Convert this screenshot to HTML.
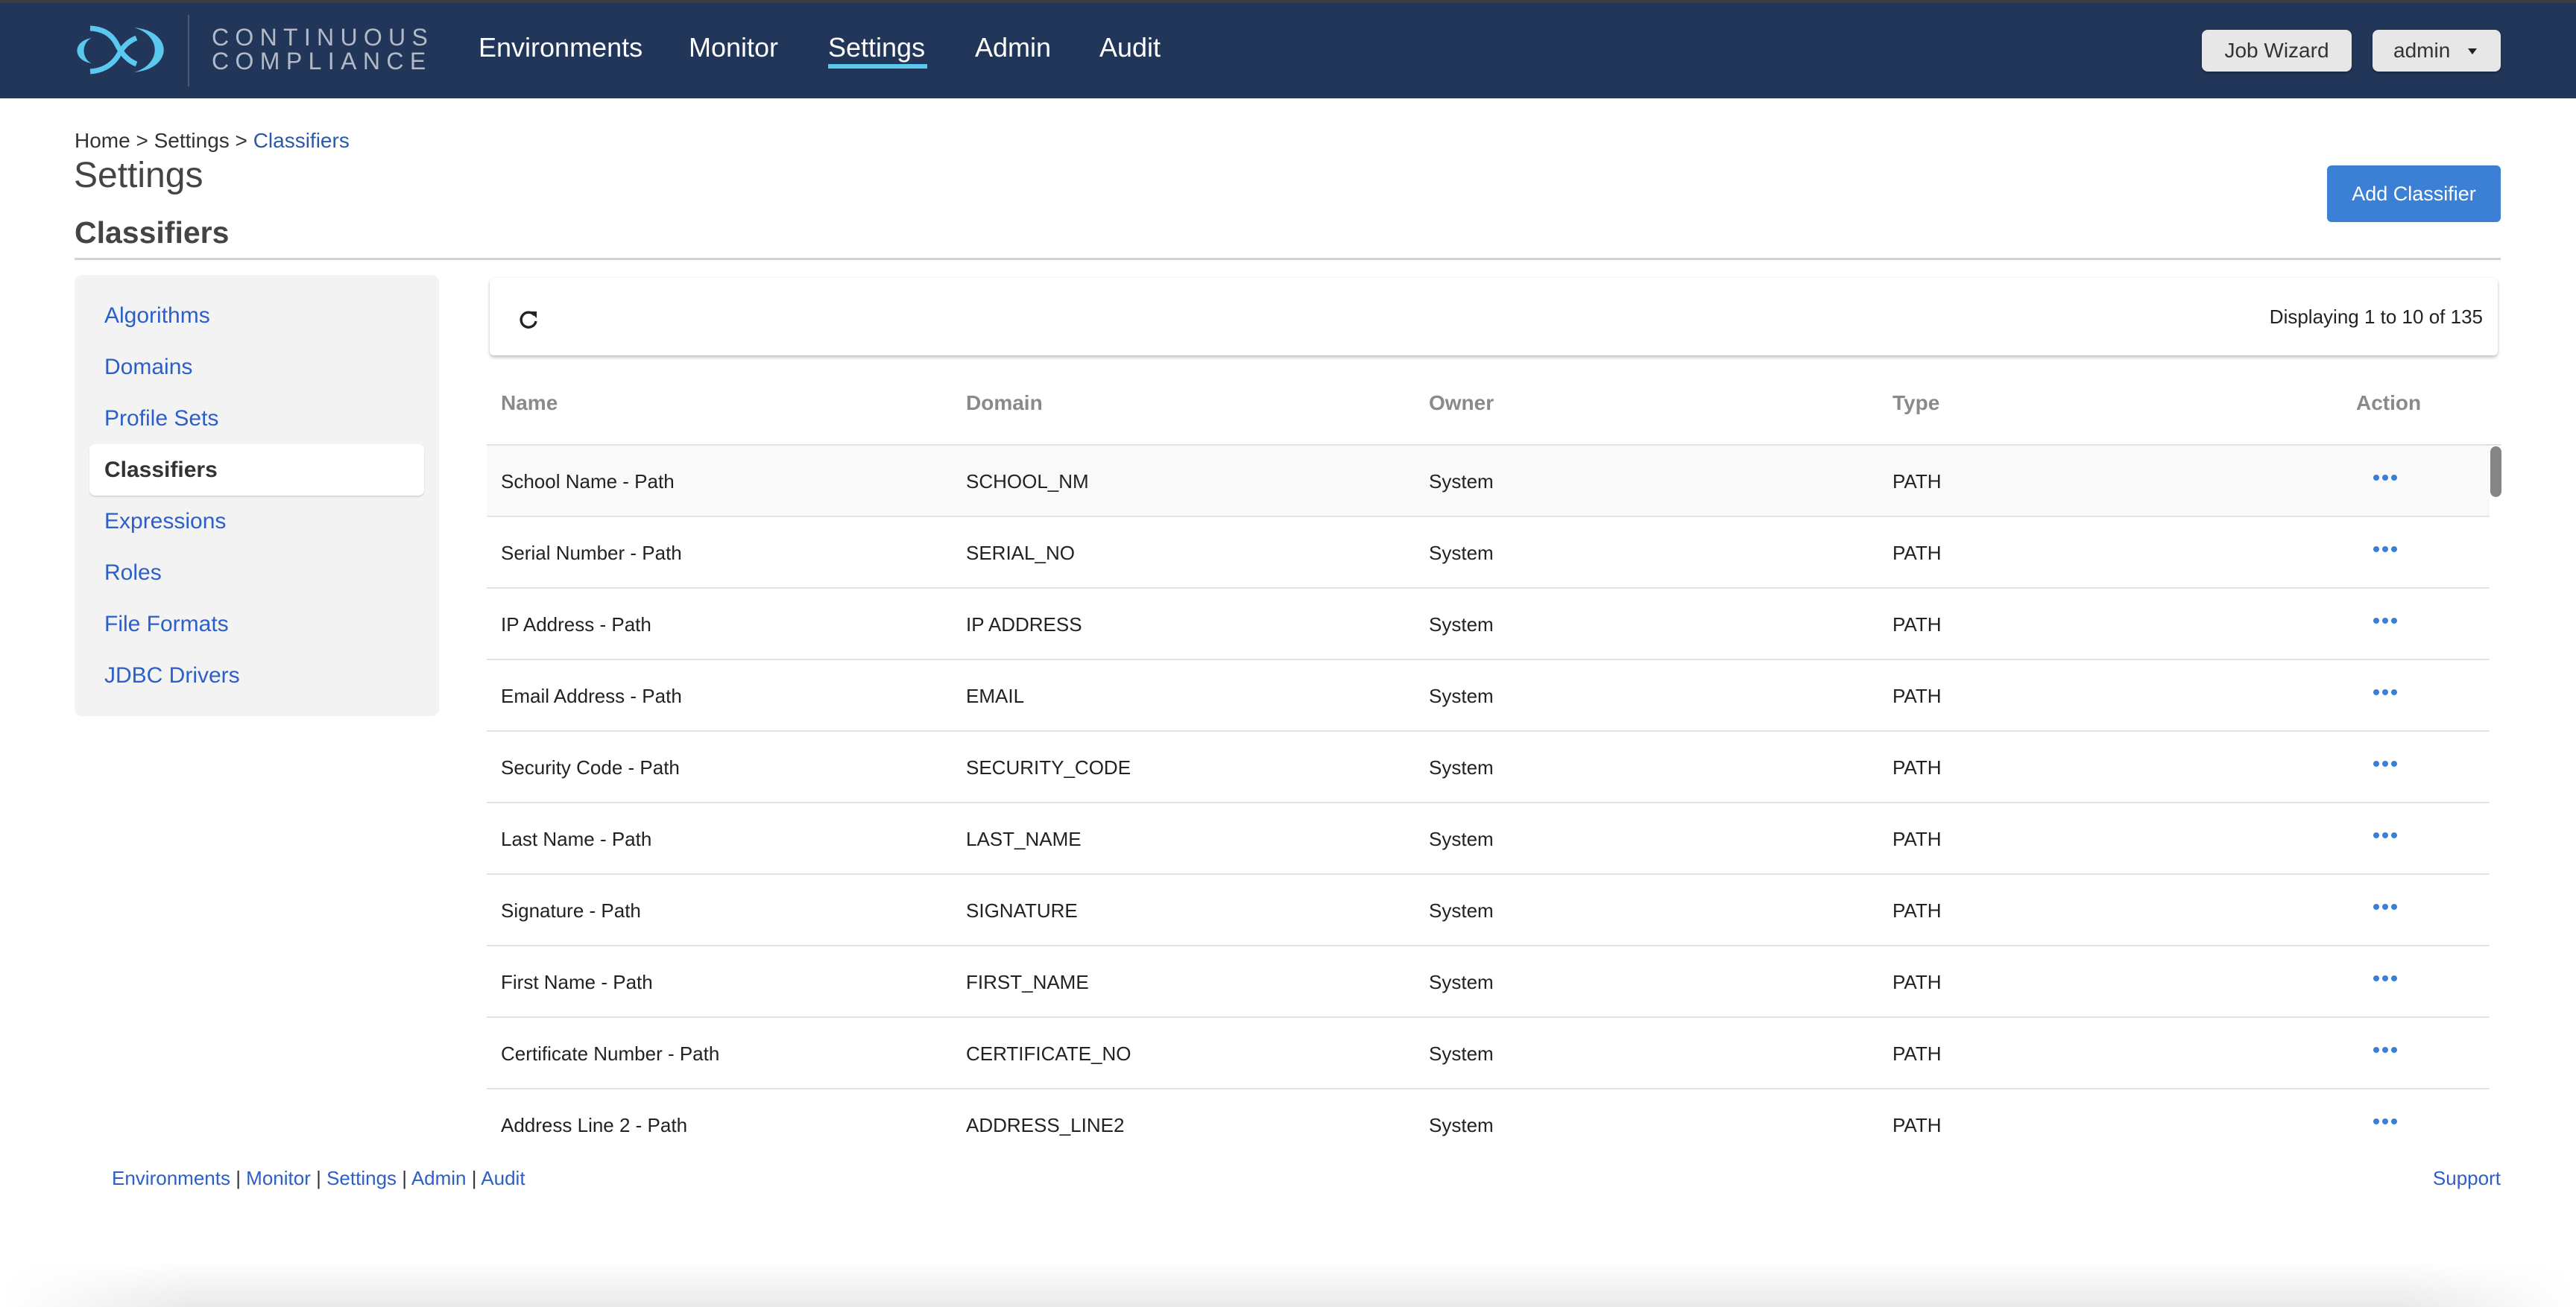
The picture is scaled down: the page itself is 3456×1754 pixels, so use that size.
<!DOCTYPE html>
<html><head><meta charset="utf-8">
<style>
*{margin:0;padding:0;box-sizing:border-box}
html,body{width:3456px;height:1754px;overflow:hidden;background:#fff;font-family:"Liberation Sans",Arial,Helvetica,sans-serif;position:relative}
.a{position:absolute;white-space:nowrap}
.nav{position:absolute;top:39px;line-height:50px;font-size:36px;color:#fff;white-space:nowrap}
.side{position:absolute;left:120px;width:449px;height:69px;line-height:69px;padding-left:20px;font-size:30px;color:#2c5fc7;white-space:nowrap}
.th{position:absolute;top:521px;line-height:40px;font-size:28px;font-weight:bold;color:#8a8a8a;white-space:nowrap}
.row{position:absolute;left:0;width:2687px;height:96px;border-bottom:2px solid #e4e4e4}
.row span{position:absolute;top:28px;line-height:40px;font-size:26px;color:#222;white-space:nowrap}
.dot{position:absolute;top:39px;width:8px;height:8px;border-radius:50%;background:#3a7fd5}
.ft{font-size:26px;color:#2c5fc7}
</style></head><body>

<!-- top stripe + header -->
<div class="a" style="left:0;top:0;width:3456px;height:4px;background:#3d3d3d"></div>
<div class="a" style="left:0;top:4px;width:3456px;height:128px;background:#22365a"></div>

<svg class="a" style="left:0;top:0" width="260" height="132" viewBox="0 0 260 132">
  <path d="M123,51 C97,55 97,81 123,85 C109,79 109,57 123,51 Z" fill="#5bc9ef"/>
  <path d="M180,37 C233,42 233,92 180,97 C217,86 217,48 180,37 Z" fill="#5bc9ef"/>
  <path d="M121,38 Q148,39 158,62 Q168,80 183,86" stroke="#5bc9ef" stroke-width="7" fill="none"/>
  <path d="M183,51 Q168,57 160,72 Q148,94 121,96" stroke="#5bc9ef" stroke-width="7" fill="none"/>
  <rect x="252" y="20" width="2" height="96" fill="#4a5b76"/>
</svg>
<div class="a" style="left:284px;top:30px;line-height:40px;font-size:32px;letter-spacing:8.3px;color:#b3bac6">CONTINUOUS</div>
<div class="a" style="left:284px;top:62px;line-height:40px;font-size:32px;letter-spacing:8.4px;color:#b3bac6">COMPLIANCE</div>

<div class="nav" style="left:642px">Environments</div>
<div class="nav" style="left:924px">Monitor</div>
<div class="nav" style="left:1111px">Settings</div>
<div class="nav" style="left:1308px">Admin</div>
<div class="nav" style="left:1475px">Audit</div>
<div class="a" style="left:1111px;top:86px;width:133px;height:6px;background:#5bc8ec"></div>

<div class="a" style="left:2954px;top:40px;width:201px;height:56px;background:#e7e7e7;border-radius:8px;box-shadow:0 2px 3px rgba(0,0,0,.3);text-align:center;line-height:56px;font-size:28px;color:#333">Job Wizard</div>
<div class="a" style="left:3183px;top:40px;width:172px;height:56px;background:#e7e7e7;border-radius:8px;box-shadow:0 2px 3px rgba(0,0,0,.3);line-height:56px;font-size:28px;color:#333;padding-left:28px">admin</div>
<svg class="a" style="left:3310px;top:64px" width="14" height="10" viewBox="0 0 14 10"><path d="M1,1 L13,1 L7,9 Z" fill="#222"/></svg>

<!-- breadcrumb + titles -->
<div class="a" style="left:100px;top:169px;line-height:40px;font-size:28px;color:#333">Home &gt; Settings &gt; <span style="color:#2b5aa8">Classifiers</span></div>
<div class="a" style="left:99px;top:206px;line-height:60px;font-size:48px;color:#444">Settings</div>
<div class="a" style="left:100px;top:287px;line-height:50px;font-size:41px;font-weight:bold;color:#444">Classifiers</div>
<div class="a" style="left:3122px;top:222px;width:233px;height:76px;background:#3b80d4;border-radius:6px;color:#fff;font-size:27px;line-height:76px;text-align:center">Add Classifier</div>
<div class="a" style="left:100px;top:346px;width:3255px;height:3px;background:#d2d2d2"></div>

<!-- sidebar -->
<div class="a" style="left:100px;top:369px;width:489px;height:592px;background:#f3f3f3;border-radius:10px"></div>
<div class="side" style="top:389px">Algorithms</div>
<div class="side" style="top:458px">Domains</div>
<div class="side" style="top:527px">Profile Sets</div>
<div class="side" style="top:596px;background:#fff;border-radius:8px;box-shadow:0 2px 2px rgba(0,0,0,.12);font-weight:bold;color:#333">Classifiers</div>
<div class="side" style="top:665px">Expressions</div>
<div class="side" style="top:734px">Roles</div>
<div class="side" style="top:803px">File Formats</div>
<div class="side" style="top:872px">JDBC Drivers</div>

<!-- toolbar card -->
<div class="a" style="left:657px;top:373px;width:2694px;height:104px;background:#fff;border-radius:6px;box-shadow:0 3px 4px rgba(0,0,0,.22),0 0 2px rgba(0,0,0,.08)"></div>
<svg class="a" style="left:694px;top:414px" width="30" height="30" viewBox="0 0 30 30">
  <path d="M23,9 A10,10 0 1 0 25,17" stroke="#222" stroke-width="3.4" fill="none"/>
  <path d="M17,4 L26,4 L26,13 Z" fill="#222"/>
</svg>
<div class="a" style="right:125px;top:405px;line-height:40px;font-size:26px;color:#222">Displaying 1 to 10 of 135</div>

<!-- table header -->
<div class="th" style="left:672px">Name</div>
<div class="th" style="left:1296px">Domain</div>
<div class="th" style="left:1917px">Owner</div>
<div class="th" style="left:2539px">Type</div>
<div class="th" style="left:3161px">Action</div>
<div class="a" style="left:653px;top:596px;width:2703px;height:2px;background:#e2e2e2"></div>

<!-- rows -->
<div class="a" style="left:653px;top:598px;width:2687px;height:947px;overflow:hidden">
  <div class="row" style="top:0;background:#f9f9f9"><span style="left:19px">School Name - Path</span><span style="left:643px">SCHOOL_NM</span><span style="left:1264px">System</span><span style="left:1886px">PATH</span><i class="dot" style="left:2531px"></i><i class="dot" style="left:2543px"></i><i class="dot" style="left:2555px"></i></div>
  <div class="row" style="top:96px"><span style="left:19px">Serial Number - Path</span><span style="left:643px">SERIAL_NO</span><span style="left:1264px">System</span><span style="left:1886px">PATH</span><i class="dot" style="left:2531px"></i><i class="dot" style="left:2543px"></i><i class="dot" style="left:2555px"></i></div>
  <div class="row" style="top:192px"><span style="left:19px">IP Address - Path</span><span style="left:643px">IP ADDRESS</span><span style="left:1264px">System</span><span style="left:1886px">PATH</span><i class="dot" style="left:2531px"></i><i class="dot" style="left:2543px"></i><i class="dot" style="left:2555px"></i></div>
  <div class="row" style="top:288px"><span style="left:19px">Email Address - Path</span><span style="left:643px">EMAIL</span><span style="left:1264px">System</span><span style="left:1886px">PATH</span><i class="dot" style="left:2531px"></i><i class="dot" style="left:2543px"></i><i class="dot" style="left:2555px"></i></div>
  <div class="row" style="top:384px"><span style="left:19px">Security Code - Path</span><span style="left:643px">SECURITY_CODE</span><span style="left:1264px">System</span><span style="left:1886px">PATH</span><i class="dot" style="left:2531px"></i><i class="dot" style="left:2543px"></i><i class="dot" style="left:2555px"></i></div>
  <div class="row" style="top:480px"><span style="left:19px">Last Name - Path</span><span style="left:643px">LAST_NAME</span><span style="left:1264px">System</span><span style="left:1886px">PATH</span><i class="dot" style="left:2531px"></i><i class="dot" style="left:2543px"></i><i class="dot" style="left:2555px"></i></div>
  <div class="row" style="top:576px"><span style="left:19px">Signature - Path</span><span style="left:643px">SIGNATURE</span><span style="left:1264px">System</span><span style="left:1886px">PATH</span><i class="dot" style="left:2531px"></i><i class="dot" style="left:2543px"></i><i class="dot" style="left:2555px"></i></div>
  <div class="row" style="top:672px"><span style="left:19px">First Name - Path</span><span style="left:643px">FIRST_NAME</span><span style="left:1264px">System</span><span style="left:1886px">PATH</span><i class="dot" style="left:2531px"></i><i class="dot" style="left:2543px"></i><i class="dot" style="left:2555px"></i></div>
  <div class="row" style="top:768px"><span style="left:19px">Certificate Number - Path</span><span style="left:643px">CERTIFICATE_NO</span><span style="left:1264px">System</span><span style="left:1886px">PATH</span><i class="dot" style="left:2531px"></i><i class="dot" style="left:2543px"></i><i class="dot" style="left:2555px"></i></div>
  <div class="row" style="top:864px"><span style="left:19px">Address Line 2 - Path</span><span style="left:643px">ADDRESS_LINE2</span><span style="left:1264px">System</span><span style="left:1886px">PATH</span><i class="dot" style="left:2531px"></i><i class="dot" style="left:2543px"></i><i class="dot" style="left:2555px"></i></div>
</div>
<div class="a" style="left:3341px;top:599px;width:15px;height:68px;background:#858585;border-radius:8px"></div>

<!-- footer -->
<div class="a" style="left:150px;top:1561px;line-height:40px;font-size:26px;color:#333"><span class="ft">Environments</span> | <span class="ft">Monitor</span> | <span class="ft">Settings</span> | <span class="ft">Admin</span> | <span class="ft">Audit</span></div>
<div class="a ft" style="right:101px;top:1561px;line-height:40px">Support</div>

<!-- bottom window shadow -->
<div class="a" style="left:0;top:1692px;width:3456px;height:62px;background:linear-gradient(to bottom,rgba(0,0,0,0),rgba(0,0,0,.085));-webkit-mask-image:linear-gradient(to right,transparent 0,#000 260px,#000 3220px,transparent 3456px);mask-image:linear-gradient(to right,transparent 0,#000 260px,#000 3220px,transparent 3456px)"></div>

</body></html>
